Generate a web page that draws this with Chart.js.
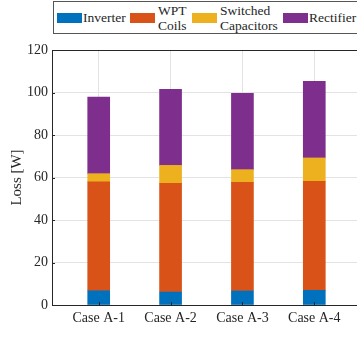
<!DOCTYPE html>
<html>
<head>
<meta charset="utf-8">
<script src="https://cdn.jsdelivr.net/npm/chart.js@4"></script>
<style>
  body { margin: 0; overflow: hidden; background: #fff; }
  #wrap { position: relative; width: 357px; height: 337px; overflow: hidden; }
  #chart { position: absolute; left: 0; top: 0; }
  #legend { position: absolute; left: 53px; top: 1px; width: 320px; height: 31px;
            border: 1px solid #555; background: #fff;
            font-family: "Liberation Serif", "Times New Roman", Times, serif;
            font-size: 13.5px; color: #262626; }
  #legend .sw { position: absolute; top: 11px; height: 10px; }
  #legend .tx { position: absolute; line-height: 14.5px; white-space: nowrap; }
</style>
</head>
<body>
<div id="wrap">
  <canvas id="chart" width="361" height="337"></canvas>
  <div id="legend"></div>
</div>
<script>
const categories = ['Case A-1', 'Case A-2', 'Case A-3', 'Case A-4'];
const seriesNames = ['Inverter', 'WPT\nCoils', 'Switched\nCapacitors', 'Rectifier'];
const colors = ['#0072BD', '#D95319', '#EDB120', '#7E2F8E'];

const inverter = [6.7, 6.1, 6.6, 6.9];
const wptCoils = [51.3, 51.2, 51.1, 51.3];
const switchedCaps = [3.8, 8.4, 6.0, 11.0];
const rectifier = [36.1, 35.8, 35.9, 36.1];

const yTicks = [0, 20, 40, 60, 80, 100, 120];

const allSeries = [inverter, wptCoils, switchedCaps, rectifier];

// html legend (two-line labels)
const legendPos = [
    { sw: 3, tx: 29, top: 9 },
    { sw: 76, tx: 104, top: 2 },
    { sw: 138, tx: 166, top: 2 },
    { sw: 229, tx: 255, top: 9 }
];
const legend = document.getElementById('legend');
seriesNames.forEach((name, i) => {
    const sw = document.createElement('div');
    sw.className = 'sw';
    sw.style.left = legendPos[i].sw + 'px';
    sw.style.width = '25px';
    sw.style.background = colors[i];
    legend.appendChild(sw);
    const tx = document.createElement('div');
    tx.className = 'tx';
    tx.style.left = legendPos[i].tx + 'px';
    tx.style.top = legendPos[i].top + 'px';
    tx.innerHTML = name.split('\n').join('<br>');
    legend.appendChild(tx);
});

// inward tick marks + top box line, matlab style
const boxTicks = {
    id: 'boxTicks',
    afterDatasetsDraw(chart) {
        const { ctx, chartArea, scales } = chart;
        ctx.save();
        ctx.strokeStyle = '#262626';
        ctx.lineWidth = 1;
        ctx.beginPath();
        scales.x.ticks.forEach(t => {
            const x = Math.round(scales.x.getPixelForValue(t.value)) + 0.5;
            ctx.moveTo(x, chartArea.bottom);
            ctx.lineTo(x, chartArea.bottom - 3);
        });
        scales.y.ticks.forEach(t => {
            const y = Math.round(scales.y.getPixelForValue(t.value)) + 0.5;
            ctx.moveTo(chartArea.left, y);
            ctx.lineTo(chartArea.left + 3, y);
        });
        ctx.moveTo(chartArea.left, chartArea.top + 0.5);
        ctx.lineTo(chartArea.right, chartArea.top + 0.5);
        ctx.stroke();
        ctx.restore();
    }
};

const family = '"Liberation Serif", "Times New Roman", Times, serif';
const font = { family: family, size: 14 };

function draw() {
    new Chart(document.getElementById('chart').getContext('2d'), {
        type: 'bar',
        data: {
            datasets: allSeries.map((vals, i) => ({
                label: seriesNames[i],
                data: vals.map((v, j) => ({ x: j + 1, y: v })),
                backgroundColor: colors[i],
                borderWidth: 0,
                barThickness: 22
            }))
        },
        options: {
            responsive: false,
            animation: false,
            layout: { padding: { top: 50, right: 0, left: 0, bottom: 0 } },
            plugins: { legend: { display: false }, tooltip: { enabled: false } },
            scales: {
                x: {
                    type: 'linear',
                    stacked: true,
                    offset: false,
                    min: 0.35,
                    max: 4.65,
                    afterBuildTicks: axis => { axis.ticks = categories.map((c, i) => ({ value: i + 1 })); },
                    afterFit: scale => { scale.height = 32; },
                    ticks: {
                        font: font,
                        color: '#262626',
                        padding: 5,
                        maxRotation: 0,
                        autoSkip: false,
                        callback: v => categories[v - 1]
                    },
                    grid: { color: '#e3e3e3', drawTicks: false, offset: false },
                    border: { color: '#262626' }
                },
                y: {
                    stacked: true,
                    min: 0,
                    max: 120,
                    afterBuildTicks: axis => { axis.ticks = yTicks.map(v => ({ value: v })); },
                    afterFit: scale => { scale.width = 52; },
                    ticks: { font: font, color: '#262626', padding: 4 },
                    grid: { color: '#e3e3e3', drawTicks: false },
                    border: { color: '#262626' },
                    title: {
                        display: true,
                        text: 'Loss [W]',
                        font: { family: family, size: 15 },
                        color: '#262626',
                        padding: { top: 8, bottom: 0 }
                    }
                }
            }
        },
        plugins: [boxTicks]
    });
}

if (document.fonts && document.fonts.load) {
    Promise.all([
        document.fonts.load('14px "Liberation Serif"'),
        document.fonts.load('14px "Times New Roman"')
    ]).then(draw, draw);
} else {
    draw();
}
</script>
</body>
</html>
